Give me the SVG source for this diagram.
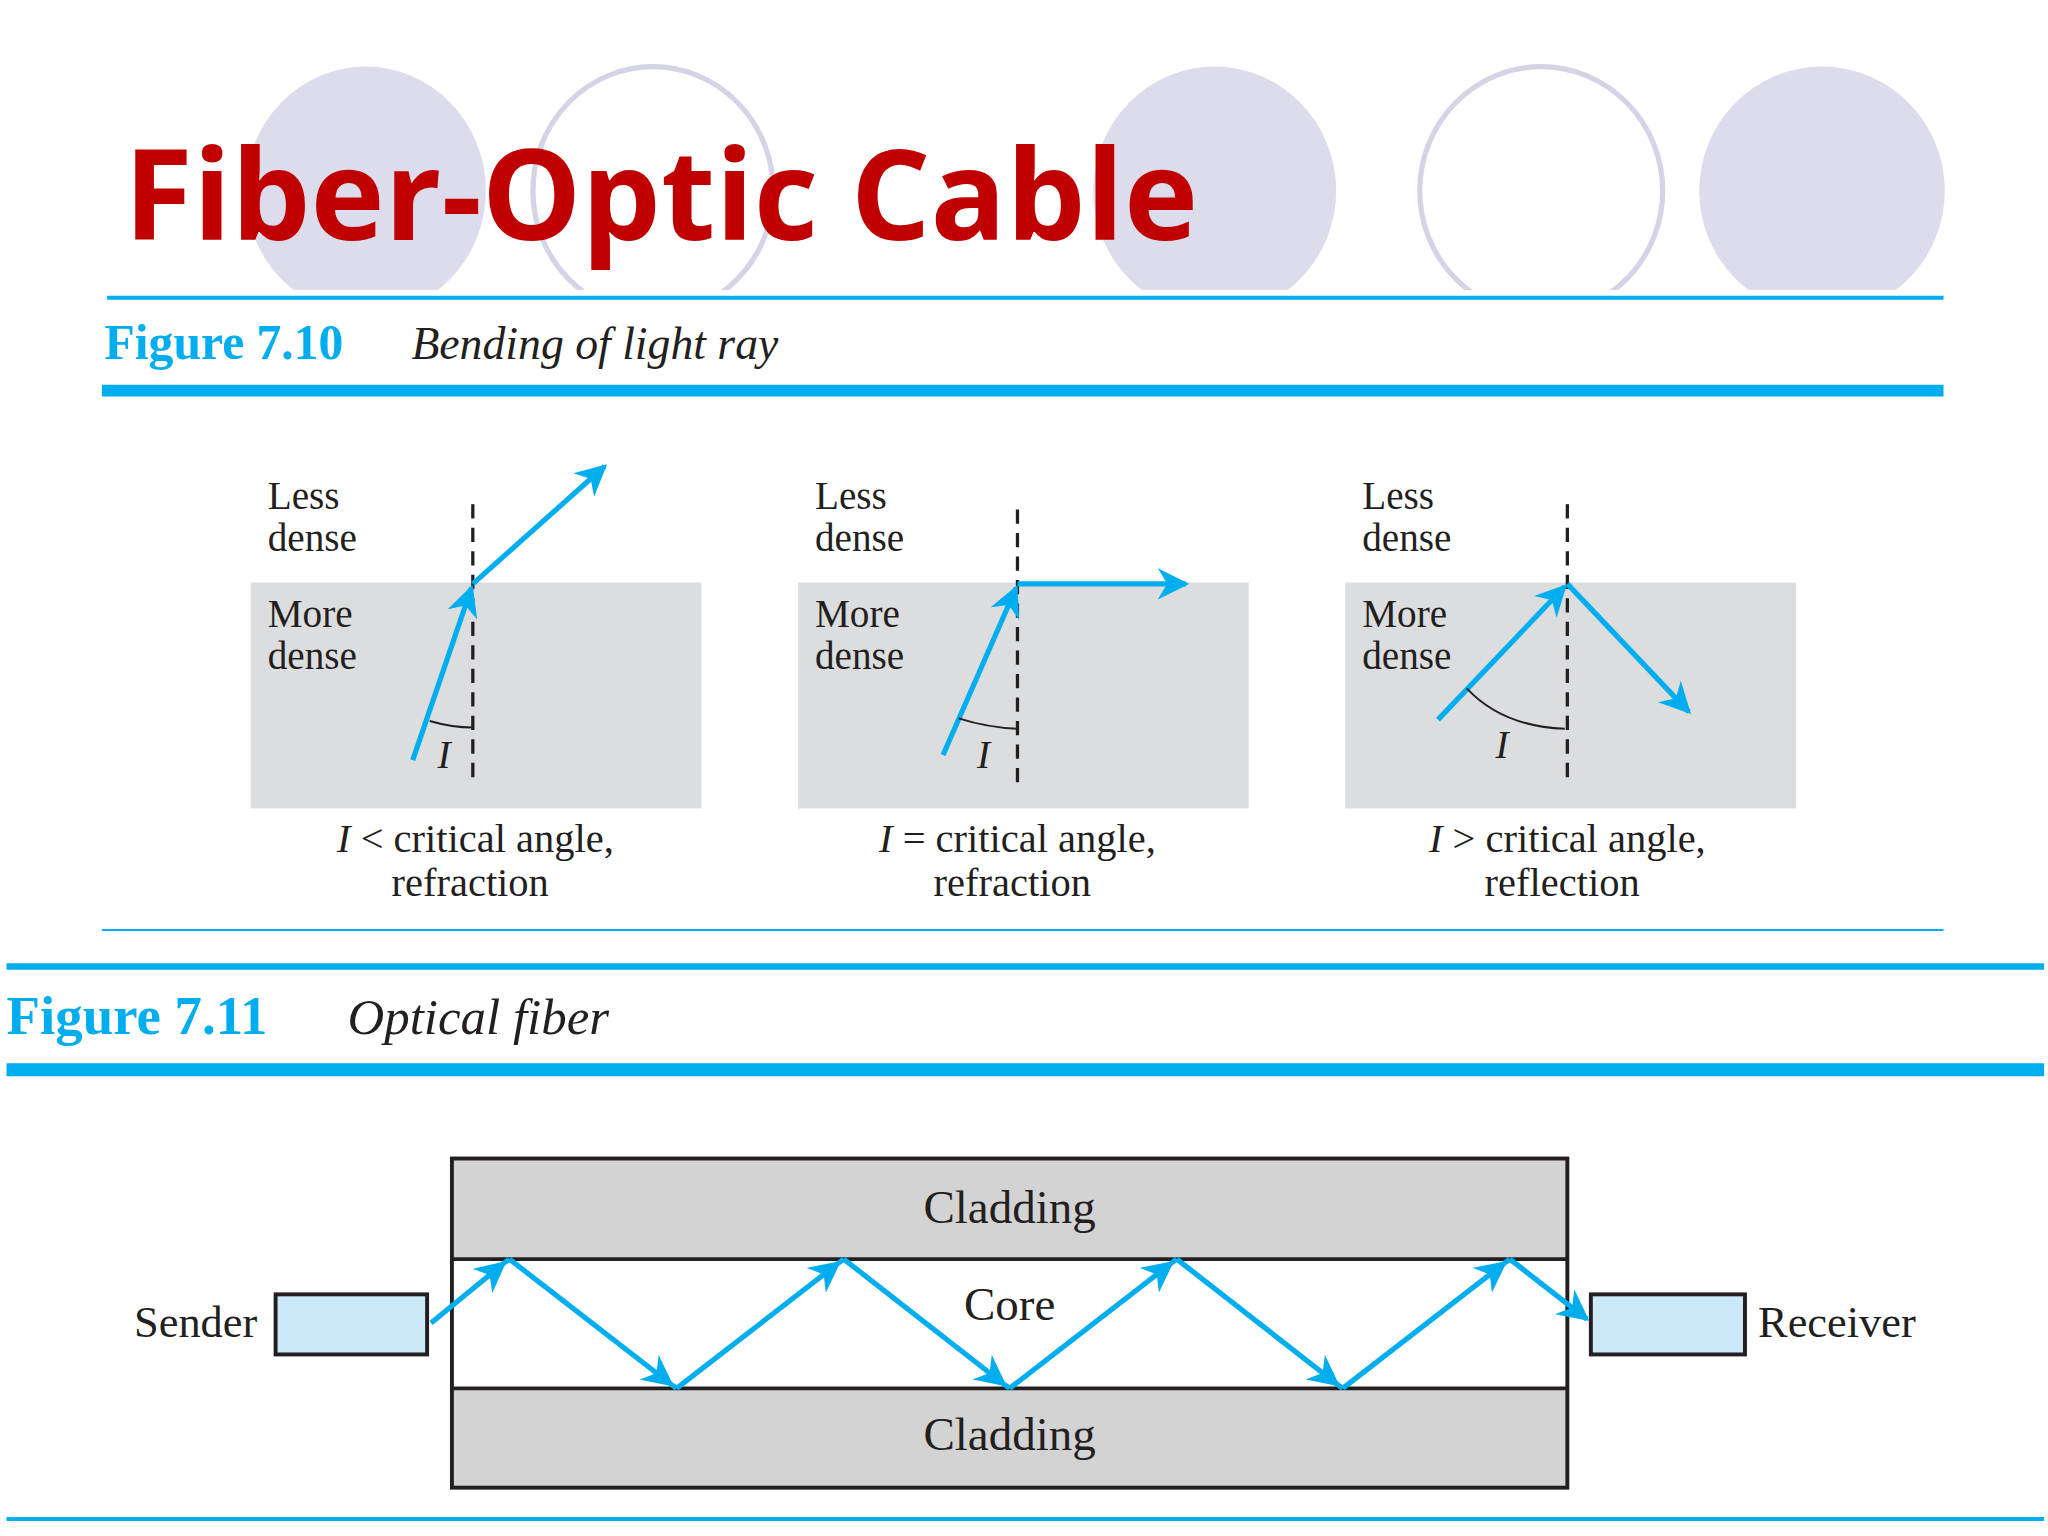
<svg xmlns="http://www.w3.org/2000/svg" width="2048" height="1536" viewBox="0 0 2048 1536">
<style>
.s{font-family:"Liberation Serif","Times New Roman",serif;fill:#231f20}
.lbl{font-size:30px}
.cap{font-size:31px;text-anchor:middle}
.ray{stroke:#00aeef;stroke-width:4;fill:none;marker-end:url(#ah)}
.ray2{stroke:#00aeef;stroke-width:4;fill:none}
.dash{stroke:#231f20;stroke-width:2.5;stroke-dasharray:11,7}
.panel{fill:#dcdddf}
.fc{fill:#dcdcec}
.oc{fill:none;stroke:#d4d4e6;stroke-width:4}
.cy{stroke:#00aeef}
</style>
<defs>
<marker id="ah" viewBox="0 0 10 10" refX="9" refY="5" markerWidth="6" markerHeight="6" orient="auto" markerUnits="strokeWidth"><path d="M0,0 L10,5 L0,10 L3,5 z" fill="#00aeef"/></marker>
<clipPath id="cp"><rect x="0" y="0" width="1568" height="222"/></clipPath>
</defs>
<rect width="2048" height="1536" fill="#fff"/>
<g transform="scale(1.30612)">
<g id="circles" clip-path="url(#cp)">
<ellipse class="fc" cx="280" cy="146" rx="92" ry="95"/>
<ellipse class="oc" cx="500" cy="146" rx="92" ry="95"/>
<ellipse class="fc" cx="930" cy="146" rx="93" ry="95"/>
<ellipse class="oc" cx="1180" cy="146" rx="93" ry="95"/>
<ellipse class="fc" cx="1395" cy="146" rx="94" ry="95"/>
</g>
<text id="title" x="95" y="184" font-family="'Open Sans','Noto Sans',sans-serif" font-weight="bold" font-size="96" fill="#c00000">Fiber-Optic Cable</text>
<g id="rules" class="cy">
<line x1="82" y1="228" x2="1488" y2="228" stroke-width="3"/>
<line x1="78" y1="299" x2="1488" y2="299" stroke-width="9"/>
<line x1="78" y1="712" x2="1488" y2="712" stroke-width="1.5"/>
<line x1="5" y1="740" x2="1565" y2="740" stroke-width="5"/>
<line x1="5" y1="819" x2="1565" y2="819" stroke-width="10"/>
<line x1="5" y1="1163" x2="1565" y2="1163" stroke-width="3"/>
</g>
<text x="80" y="275" font-family="'Liberation Serif',serif" font-weight="bold" font-size="38" fill="#00aeef">Figure 7.10</text>
<text x="315" y="275" class="s" font-style="italic" font-size="35">Bending of light ray</text>
<text x="5" y="792" font-family="'Liberation Serif',serif" font-weight="bold" font-size="42" fill="#00aeef">Figure 7.11</text>
<text x="266" y="792" class="s" font-style="italic" font-size="39">Optical fiber</text>

<g id="panel1">
<rect class="panel" x="192" y="446" width="345" height="173"/>
<text class="s lbl" x="205" y="390">Less</text><text class="s lbl" x="205" y="422">dense</text>
<text class="s lbl" x="205" y="480">More</text><text class="s lbl" x="205" y="512">dense</text>
<line class="dash" x1="362" y1="386" x2="362" y2="602"/>
<line class="ray" x1="316" y1="582" x2="361" y2="450"/>
<line class="ray" x1="362" y1="447" x2="463" y2="357"/>
<path d="M329,552 Q346,557 362,557" fill="none" stroke="#231f20" stroke-width="1.5"/>
<text class="s" x="335" y="588" font-style="italic" font-size="30">I</text>
<text class="s cap" x="364" y="652"><tspan font-style="italic">I</tspan> &lt; critical angle,</text>
<text class="s cap" x="360" y="686">refraction</text>
</g>
<g id="panel2">
<rect class="panel" x="611" y="446" width="345" height="173"/>
<text class="s lbl" x="624" y="390">Less</text><text class="s lbl" x="624" y="422">dense</text>
<text class="s lbl" x="624" y="480">More</text><text class="s lbl" x="624" y="512">dense</text>
<line class="dash" x1="779" y1="390" x2="779" y2="606"/>
<line class="ray" x1="722" y1="578" x2="778" y2="450"/>
<line class="ray" x1="779" y1="447" x2="908" y2="447"/>
<path d="M734,550 Q756,557 779,558" fill="none" stroke="#231f20" stroke-width="1.5"/>
<text class="s" x="748" y="588" font-style="italic" font-size="30">I</text>
<text class="s cap" x="779" y="652"><tspan font-style="italic">I</tspan> = critical angle,</text>
<text class="s cap" x="775" y="686">refraction</text>
</g>
<g id="panel3">
<rect class="panel" x="1030" y="446" width="345" height="173"/>
<text class="s lbl" x="1043" y="390">Less</text><text class="s lbl" x="1043" y="422">dense</text>
<text class="s lbl" x="1043" y="480">More</text><text class="s lbl" x="1043" y="512">dense</text>
<line class="dash" x1="1200" y1="386" x2="1200" y2="602"/>
<line class="ray" x1="1101" y1="551" x2="1198" y2="449"/>
<line class="ray" x1="1200" y1="447" x2="1293" y2="545"/>
<path d="M1123,527 Q1150,556 1198,558" fill="none" stroke="#231f20" stroke-width="1.5"/>
<text class="s" x="1145" y="580" font-style="italic" font-size="30">I</text>
<text class="s cap" x="1200" y="652"><tspan font-style="italic">I</tspan> &gt; critical angle,</text>
<text class="s cap" x="1196" y="686">reflection</text>
</g>

<g id="fiber">
<rect x="346" y="887" width="854" height="77" fill="#d3d3d3"/>
<rect x="346" y="1063" width="854" height="76" fill="#d3d3d3"/>
<rect x="346" y="887" width="854" height="252" fill="none" stroke="#231f20" stroke-width="3"/>
<line x1="346" y1="964" x2="1200" y2="964" stroke="#231f20" stroke-width="3"/>
<line x1="346" y1="1063" x2="1200" y2="1063" stroke="#231f20" stroke-width="3"/>
<text class="s" x="773" y="936" font-size="36" text-anchor="middle">Cladding</text>
<text class="s" x="773" y="1011" font-size="36" text-anchor="middle">Core</text>
<text class="s" x="773" y="1110" font-size="36" text-anchor="middle">Cladding</text>
</g>
<g id="sender">
<rect x="211" y="991" width="116" height="46" fill="#cce9fa" stroke="#231f20" stroke-width="3"/>
<text class="s" x="197" y="1024" font-size="34" text-anchor="end">Sender</text>
</g>
<g id="receiver">
<rect x="1218" y="991" width="118" height="46" fill="#cce9fa" stroke="#231f20" stroke-width="3"/>
<text class="s" x="1346" y="1024" font-size="34">Receiver</text>
</g>
<g id="connectors">
<line class="ray" x1="330" y1="1013" x2="386" y2="967"/>
<line class="ray2" x1="386" y1="967" x2="390" y2="964"/>
<line class="ray" x1="390" y1="964" x2="514" y2="1060"/>
<line class="ray2" x1="514" y1="1060" x2="518" y2="1063"/>
<line class="ray" x1="518" y1="1063" x2="642" y2="967"/>
<line class="ray2" x1="642" y1="967" x2="646" y2="964"/>
<line class="ray" x1="646" y1="964" x2="769" y2="1060"/>
<line class="ray2" x1="769" y1="1060" x2="773" y2="1063"/>
<line class="ray" x1="773" y1="1063" x2="897" y2="967"/>
<line class="ray2" x1="897" y1="967" x2="901" y2="964"/>
<line class="ray" x1="901" y1="964" x2="1024" y2="1060"/>
<line class="ray2" x1="1024" y1="1060" x2="1028" y2="1063"/>
<line class="ray" x1="1028" y1="1063" x2="1152" y2="967"/>
<line class="ray2" x1="1152" y1="967" x2="1156" y2="964"/>
<line class="ray" x1="1156" y1="964" x2="1215" y2="1010"/>
</g>
</g>
</svg>
